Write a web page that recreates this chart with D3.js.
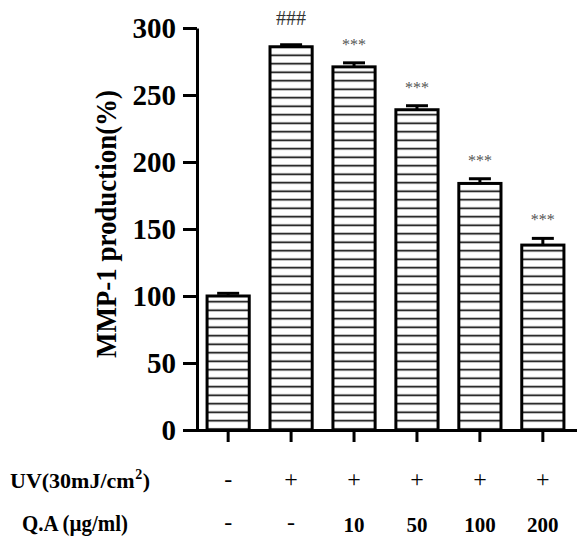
<!DOCTYPE html>
<html>
<head>
<meta charset="utf-8">
<script src="https://cdn.jsdelivr.net/npm/d3@7/dist/d3.min.js"></script>
<style>
  body { margin: 0; background: #fff; }
  svg { display: block; }
  svg text { font-family: "Liberation Serif", "Times New Roman", serif; }
</style>
</head>
<body>
<div id="chart"></div>
<script>
// groups, left to right
const groups = ["ctrl", "uv", "qa10", "qa50", "qa100", "qa200"];
const values = [100, 286, 271, 239, 184, 138];
const errors = [2, 1.5, 3, 3, 3.5, 5];
const marks = ["", "###", "***", "***", "***", "***"];
const uvRow = ["-", "+", "+", "+", "+", "+"];
const qaRow = ["-", "-", "10", "50", "100", "200"];
const yTicks = [0, 50, 100, 150, 200, 250, 300];

const W = 577, H = 557;
const svg = d3.select("#chart").append("svg")
  .attr("width", W).attr("height", H);

// hatch pattern: horizontal lines
const defs = svg.append("defs");
const pat = defs.append("pattern")
  .attr("id", "hatch")
  .attr("patternUnits", "userSpaceOnUse")
  .attr("width", 10).attr("height", 8.5);
pat.append("rect").attr("width", 10).attr("height", 8.5).attr("fill", "#fff");
pat.append("line")
  .attr("x1", 0).attr("x2", 10).attr("y1", 4.25).attr("y2", 4.25)
  .attr("stroke", "#000").attr("stroke-width", 1.6);

const x = d3.scaleBand()
  .domain(groups)
  .range([197, 574])
  .paddingInner(0.33)
  .paddingOuter(0.16);

const y = d3.scaleLinear()
  .domain([0, 300])
  .range([430, 28]);

const cx = d => x(d) + x.bandwidth() / 2;

// bars
svg.selectAll(".bar")
  .data(groups)
  .enter()
  .append("rect")
  .attr("class", "bar")
  .attr("x", d => x(d))
  .attr("width", x.bandwidth())
  .attr("y", (d, i) => y(values[i]))
  .attr("height", (d, i) => y(0) - y(values[i]))
  .attr("fill", "url(#hatch)")
  .attr("stroke", "#000")
  .attr("stroke-width", 3);

// error bars (upper only)
const eb = svg.selectAll(".err")
  .data(groups)
  .enter()
  .append("g")
  .attr("class", "err");
eb.append("line")
  .attr("x1", cx).attr("x2", cx)
  .attr("y1", (d, i) => y(values[i]))
  .attr("y2", (d, i) => y(values[i] + errors[i]))
  .attr("stroke", "#000").attr("stroke-width", 3);
eb.append("line")
  .attr("x1", d => cx(d) - 11)
  .attr("x2", d => cx(d) + 11)
  .attr("y1", (d, i) => y(values[i] + errors[i]))
  .attr("y2", (d, i) => y(values[i] + errors[i]))
  .attr("stroke", "#000").attr("stroke-width", 3);

// significance marks
svg.selectAll(".mark")
  .data(groups)
  .enter()
  .append("text")
  .attr("class", "mark")
  .attr("x", cx)
  .attr("y", (d, i) => y(values[i] + errors[i]) - (i === 1 ? 20 : 13))
  .attr("text-anchor", "middle")
  .attr("fill", (d, i) => i === 1 ? "#333" : "#555")
  .style("font-size", (d, i) => i === 1 ? "20px" : "16px")
  .text((d, i) => marks[i]);

// y axis
const yAxis = d3.axisLeft(y).tickValues(yTicks).tickSize(14).tickSizeOuter(0).tickPadding(7);
const gy = svg.append("g")
  .attr("transform", "translate(197,0)")
  .call(yAxis);
gy.attr("font-family", null);
gy.select(".domain").attr("stroke-width", 3);
gy.selectAll(".tick line").attr("stroke-width", 3);
gy.selectAll(".tick text")
  .attr("fill", "#000")
  .style("font-size", "29px")
  .style("font-weight", "bold")
  .attr("dy", "0.34em");

// x axis
const xAxis = d3.axisBottom(x).tickSize(12).tickSizeOuter(0).tickFormat("");
const gx = svg.append("g")
  .attr("transform", "translate(0,430)")
  .call(xAxis);
gx.select(".domain").attr("d", "M196,0.5H577").attr("stroke-width", 3);
gx.selectAll(".tick line").attr("stroke-width", 3);

// y label
svg.append("text")
  .attr("transform", "translate(116,224) rotate(-90)")
  .attr("text-anchor", "middle")
  .attr("textLength", 268)
  .attr("lengthAdjust", "spacingAndGlyphs")
  .style("font-size", "29px")
  .style("font-weight", "bold")
  .text("MMP-1 production(%)");

// treatment rows
const uvMain = svg.append("text")
  .attr("x", 10).attr("y", 488)
  .style("font-size", "22px").style("font-weight", "bold")
  .text("UV(30mJ/cm");
const supX = 10 + uvMain.node().getComputedTextLength() + 0.5;
const uvSup = svg.append("text")
  .attr("x", supX).attr("y", 479)
  .style("font-size", "14px").style("font-weight", "bold")
  .text("2");
svg.append("text")
  .attr("x", supX + uvSup.node().getComputedTextLength() + 0.5).attr("y", 488)
  .style("font-size", "22px").style("font-weight", "bold")
  .text(")");

svg.append("text")
  .attr("x", 22).attr("y", 531)
  .attr("textLength", 106)
  .attr("lengthAdjust", "spacingAndGlyphs")
  .style("font-size", "23px").style("font-weight", "bold")
  .text("Q.A (\u00b5g/ml)");

svg.selectAll(".uv")
  .data(groups)
  .enter()
  .append("text")
  .attr("class", "uv")
  .attr("x", cx)
  .attr("y", 487)
  .attr("text-anchor", "middle")
  .style("font-size", "24px")
  .text((d, i) => uvRow[i]);

svg.selectAll(".qa")
  .data(groups)
  .enter()
  .append("text")
  .attr("class", "qa")
  .attr("x", cx)
  .attr("y", (d, i) => qaRow[i] === "-" ? 530 : 532)
  .attr("text-anchor", "middle")
  .style("font-size", (d, i) => qaRow[i] === "-" ? "24px" : "21px")
  .style("font-weight", (d, i) => qaRow[i] === "-" ? "normal" : "bold")
  .text((d, i) => qaRow[i]);
</script>
</body>
</html>
